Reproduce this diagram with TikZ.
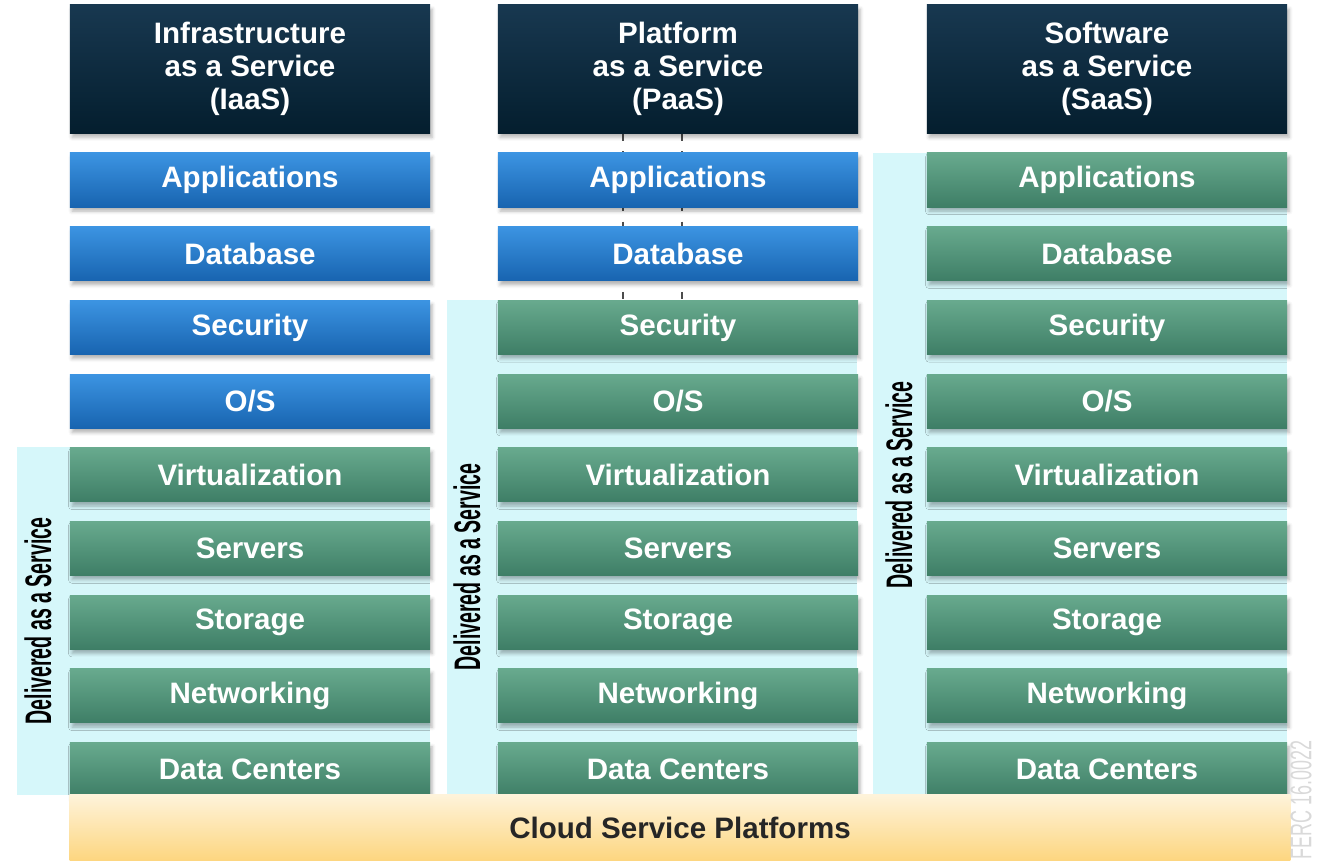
\documentclass[tikz,border=0pt]{standalone}
\usepackage{fontspec}
\setmainfont{Liberation Sans}
\usetikzlibrary{shadows.blur,backgrounds}

\definecolor{headtop}{RGB}{24,56,80}
\definecolor{headbot}{RGB}{4,30,46}
\definecolor{bluetop}{RGB}{60,148,226}
\definecolor{bluebot}{RGB}{24,100,176}
\definecolor{greentop}{RGB}{104,170,142}
\definecolor{greenbot}{RGB}{62,126,102}
\definecolor{cloudtop}{RGB}{254,243,218}
\definecolor{cloudbot}{RGB}{253,214,128}
\definecolor{panelcyan}{RGB}{214,247,250}

\tikzset{
  layer/.style={minimum width=3.6cm, minimum height=0.54cm, inner sep=0pt,
    text=white, font=\fontsize{8.4}{10}\selectfont\bfseries,
    blur shadow={shadow xshift=0.6pt, shadow yshift=-1.2pt, shadow blur radius=1pt, shadow opacity=30}},
  headbox/.style={layer, minimum height=1.28cm, top color=headtop, bottom color=headbot,
    align=center, font=\fontsize{8.4}{9.4}\selectfont\bfseries},
  cloudbar/.style={minimum width=12.2cm, minimum height=0.65cm, inner sep=0pt,
    top color=cloudtop, bottom color=cloudbot, text=black!85,
    font=\fontsize{8.4}{10}\selectfont\bfseries},
  panel/.style={fill=panelcyan},
  vlabel/.style={rotate=90, inner sep=0pt, font=\fontsize{10.5}{12}\selectfont\bfseries}
}

\begin{document}
\begin{tikzpicture}[x=0.01cm, y=-0.01cm]
\useasboundingbox (0,0) rectangle (1317,861);

% delivered-as-a-service panels
\fill[panel] (17,447) rectangle (430,795);
\fill[panel] (447,300) rectangle (857,795);
\fill[panel] (873,153) rectangle (1287,795);

\node[vlabel] (idel) at (38,621) {\scalebox{0.53}[1]{Delivered as a Service}};
\node[vlabel] (pdel) at (467,567) {\scalebox{0.53}[1]{Delivered as a Service}};
\node[vlabel] (sdel) at (899,485) {\scalebox{0.53}[1]{Delivered as a Service}};

% column heads
\node[headbox] (ihead) at (250,69) {Infrastructure\\as a Service\\(IaaS)};
\node[headbox] (phead) at (678,69) {Platform\\as a Service\\(PaaS)};
\node[headbox] (shead) at (1107,69) {Software\\as a Service\\(SaaS)};

% stack layers, blue ones are managed by the user
\foreach \col/\cx/\nb in {i/250/4,p/678/2,s/1107/0}{
  \foreach \lab [count=\r] in {Applications,Database,Security,O/S,Virtualization,Servers,Storage,Networking,Data Centers}{
    \ifnum\r>\nb \colorlet{boxtop}{greentop}\colorlet{boxbot}{greenbot}%
    \else \colorlet{boxtop}{bluetop}\colorlet{boxbot}{bluebot}\fi
    \node[layer, top color=boxtop, bottom color=boxbot] (\col\r) at (\cx,106.3+73.7*\r) {\lab};
  }
}

\begin{scope}[on background layer]
\draw[black!70, line width=0.7pt, dash pattern=on 2pt off 3pt] ([xshift=-0.55cm]phead.south) -- ([xshift=-0.55cm]p3.north);
\draw[black!70, line width=0.7pt, dash pattern=on 2pt off 3pt] ([xshift=0.04cm]phead.south) -- ([xshift=0.04cm]p3.north);
\end{scope}

\node[cloudbar] (cloud) at (680,827.5) {Cloud Service Platforms};

\node[rotate=90, text=gray!30, inner sep=0pt, font=\fontsize{8.5}{10}\selectfont] (ferc) at (1301,800) {\scalebox{0.6}[1]{FERC 16.0022}};
\end{tikzpicture}
\end{document}
